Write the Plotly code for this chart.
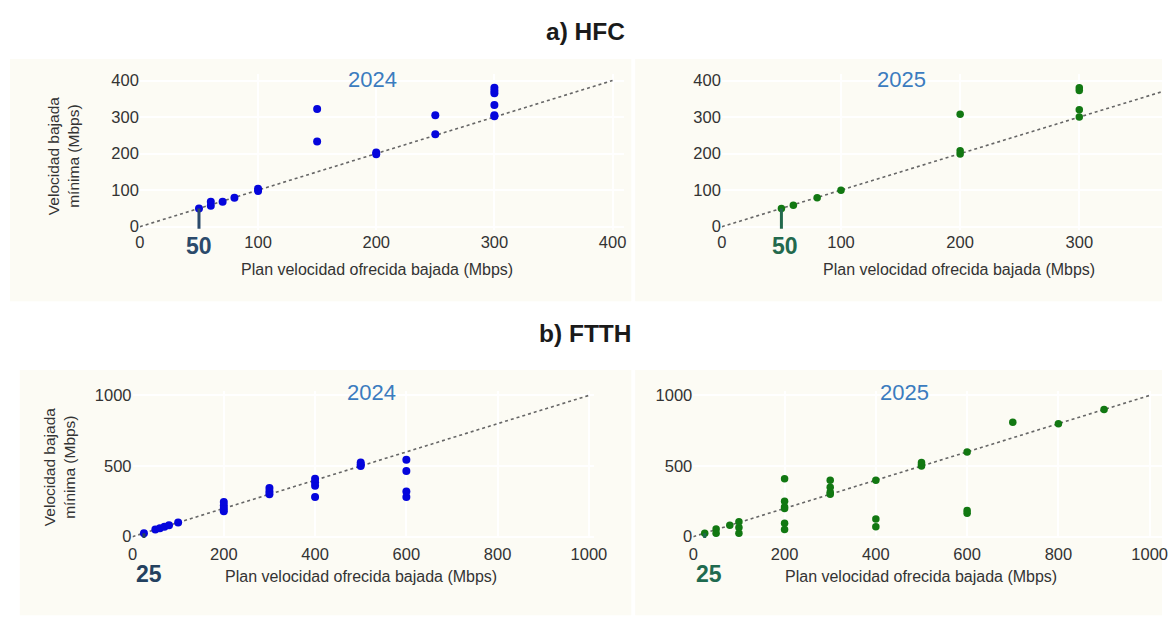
import plotly.graph_objects as go

W, H = 1175, 629

# ---------------- data ----------------
hfc24_x = [50, 60, 60, 70, 80, 100, 100, 150, 150, 200, 200, 250, 250, 300, 300, 300, 300, 300, 300]
hfc24_y = [50, 57, 68, 68, 79, 98, 104, 322, 233, 198, 203, 305, 253, 302, 305, 333, 365, 372, 380]

hfc25_x = [50, 60, 80, 100, 200, 200, 200, 300, 300, 300, 300]
hfc25_y = [50, 59, 79, 100, 308, 208, 199, 300, 320, 373, 380]

ftth24_x = [25, 50, 60, 70, 80, 100, 200, 200, 200, 200, 300, 300, 300,
            400, 400, 400, 400, 500, 500, 500, 600, 600, 600, 600]
ftth24_y = [25, 50, 60, 70, 80, 100, 180, 200, 220, 245, 300, 320, 345,
            280, 360, 385, 410, 500, 510, 525, 280, 320, 465, 545]

ftth25_x = [25, 50, 50, 80, 100, 100, 100, 200, 200, 200, 200, 200, 200,
            300, 300, 300, 300, 400, 400, 400, 500, 500, 500, 600, 600, 600, 700, 800, 900]
ftth25_y = [25, 25, 55, 80, 25, 65, 105, 50, 95, 200, 210, 250, 410,
            300, 315, 350, 400, 70, 125, 400, 500, 510, 525, 165, 185, 600, 810, 800, 900]

hfc_ref = [0, 400]
ftth_ref = [0, 1000]

hfc_ticks = [0, 100, 200, 300, 400]
ftth_xticks = [0, 200, 400, 600, 800, 1000]
ftth_yticks = [0, 500, 1000]

section_titles = ["a) HFC", "b) FTTH"]
year_titles = ["2024", "2025", "2024", "2025"]
x_title = "Plan velocidad ofrecida bajada (Mbps)"
y_title = "Velocidad bajada<br>mínima (Mbps)"
min_labels = ["50", "50", "25", "25"]
min_values = [50, 50, 25, 25]

# ---------------- styling / geometry ----------------
FONT = "Liberation Sans, Arial, sans-serif"
BLUE = "#0505dc"
GREEN = "#127812"
CREAM = "#fcfbf4"
TICKC = "#333333"
YEARC = "#3b7cbf"

# panel geometry: origin pixel, pixels per unit, data range
panels = [
    dict(x0=137, xs=1.2, xr=[0, 410], y0=226, ys=0.3725, yr=[-10, 418],
         xt=hfc_ticks, yt=hfc_ticks, sx=0),
    dict(x0=728, xs=1.21, xr=[0, (W - 728) / 1.21], y0=226, ys=0.3725, yr=[-10, 418],
         xt=hfc_ticks, yt=hfc_ticks, sx=0),
    dict(x0=129.5, xs=0.4635, xr=[0, 1012], y0=542, ys=0.144, yr=[-10, 1030],
         xt=ftth_xticks, yt=ftth_yticks, sx=4),
    dict(x0=699, xs=0.4635, xr=[0, (W - 699) / 0.4635], y0=542, ys=0.144, yr=[-10, 1030],
         xt=ftth_xticks, yt=ftth_yticks, sx=4),
]

series = [
    (hfc24_x, hfc24_y, BLUE, 8, hfc_ref),
    (hfc25_x, hfc25_y, GREEN, 7.5, hfc_ref),
    (ftth24_x, ftth24_y, BLUE, 8, ftth_ref),
    (ftth25_x, ftth25_y, GREEN, 7.5, ftth_ref),
]

fig = go.Figure()
layout = dict(
    width=W, height=H,
    margin=dict(l=0, r=0, t=0, b=0),
    paper_bgcolor="white",
    plot_bgcolor="rgba(0,0,0,0)",
    showlegend=False,
    font=dict(family=FONT, color=TICKC, size=16),
)

for i, (p, s) in enumerate(zip(panels, series)):
    n = "" if i == 0 else str(i + 1)
    xd = [max(0, (p["x0"] + p["xr"][0] * p["xs"]) / W), min(1, (p["x0"] + p["xr"][1] * p["xs"]) / W)]
    yd = [1 - (p["y0"] - p["yr"][0] * p["ys"]) / H, 1 - (p["y0"] - p["yr"][1] * p["ys"]) / H]
    layout["xaxis" + n] = dict(domain=xd, range=p["xr"], tickvals=p["xt"], anchor="y" + n,
                               showgrid=True, gridcolor="white", gridwidth=2,
                               zeroline=False, showline=False, ticks="",
                               ticklabeloverflow="allow", ticklabelstandoff=p["sx"],
                               tickfont=dict(size=16.5, color=TICKC, family=FONT))
    layout["yaxis" + n] = dict(domain=yd, range=p["yr"], tickvals=p["yt"], anchor="x" + n,
                               showgrid=True, gridcolor="white", gridwidth=2,
                               zeroline=False, showline=False, ticks="",
                               tickfont=dict(size=16.5, color=TICKC, family=FONT))
    xs, ys, col, ms, ref = s
    fig.add_trace(go.Scatter(x=ref, y=ref, mode="lines", xaxis="x" + n, yaxis="y" + n,
                             line=dict(color="#666666", width=1.6, dash="3px,3px"),
                             hoverinfo="skip"))
    fig.add_trace(go.Scatter(x=xs, y=ys, mode="markers", xaxis="x" + n, yaxis="y" + n,
                             marker=dict(color=col, size=ms, line=dict(width=0)),
                             cliponaxis=False))

fig.update_layout(**layout)

# background cream panels (pixel boxes)
boxes = [(5, 55, 636, 302), (640, 55, W, 302), (15, 372, 636, 622), (640, 372, W, 622)]
shapes = []
for (x1, y1, x2, y2) in boxes:
    shapes.append(dict(type="rect", xref="paper", yref="paper", layer="below",
                       x0=x1 / W, x1=x2 / W, y0=1 - y2 / H, y1=1 - y1 / H,
                       fillcolor=CREAM, line=dict(width=0)))

annotations = []
# section titles
for t, py in zip(section_titles, [27, 335]):
    annotations.append(dict(text="<b>" + t + "</b>", x=590 / W, y=1 - py / H, xref="paper", yref="paper",
                            showarrow=False, font=dict(size=24.5, color="#1a1a1a", family=FONT),
                            xanchor="center", yanchor="middle"))
# year titles
for t, (px, py) in zip(year_titles, [(373, 76), (910, 76), (372, 395), (913, 395)]):
    annotations.append(dict(text=t, x=px / W, y=1 - py / H, xref="paper", yref="paper",
                            showarrow=False, font=dict(size=22, color=YEARC, family=FONT),
                            xanchor="center", yanchor="middle"))
# x titles
for (px, py) in [(378, 270), (969, 270), (362, 583), (930, 583)]:
    annotations.append(dict(text=x_title, x=px / W, y=1 - py / H, xref="paper", yref="paper",
                            showarrow=False, font=dict(size=16, color=TICKC, family=FONT),
                            xanchor="center", yanchor="middle"))
# y titles (left panels only)
for (px, py) in [(59, 154), (55, 471)]:
    annotations.append(dict(text=y_title, x=px / W, y=1 - py / H, xref="paper", yref="paper",
                            showarrow=False, textangle=-90,
                            font=dict(size=15.5, color=TICKC, family=FONT),
                            xanchor="center", yanchor="middle"))

# minimum-plan markers
mark_cols = ["#2b4a6b", "#23694d", "#24415f", "#1f6a4f"]
xshifts = [0, 4, 5, 4]
yshifts = [-19, -19, -37, -37]
line_bottom_px = [228, 228, 562, 562]
for i, (lab, v) in enumerate(zip(min_labels, min_values)):
    n = "" if i == 0 else str(i + 1)
    p = panels[i]
    ybot = -(line_bottom_px[i] - p["y0"]) / p["ys"]
    shapes.append(dict(type="line", xref="x" + n, yref="y" + n, x0=v, x1=v,
                       y0=ybot, y1=v, line=dict(color=mark_cols[i], width=3), layer="above"))
    annotations.append(dict(text="<b>" + lab + "</b>", x=v, y=0, xref="x" + n, yref="y" + n,
                            xshift=xshifts[i], yshift=yshifts[i], showarrow=False,
                            font=dict(size=23, color=mark_cols[i], family=FONT),
                            xanchor="center", yanchor="middle"))

fig.update_layout(shapes=shapes, annotations=annotations)
fig.write_html("out.html",
               config={"displayModeBar": False},
               post_script="document.body.style.margin='0';document.body.style.overflow='hidden';")
